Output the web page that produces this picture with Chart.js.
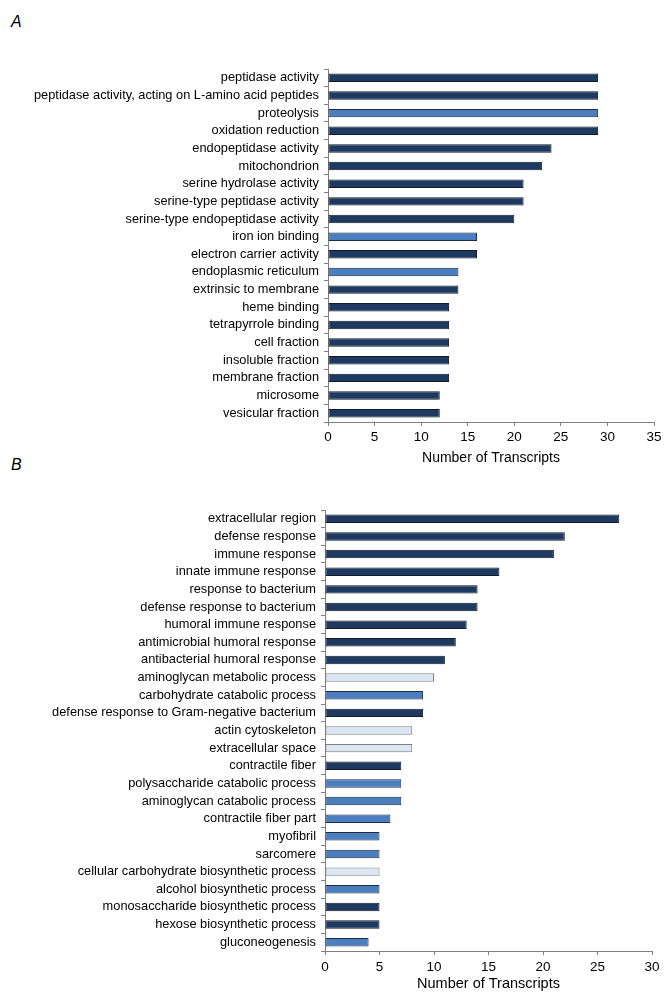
<!DOCTYPE html>
<html>
<head>
<meta charset="utf-8">
<script src="https://cdn.jsdelivr.net/npm/chart.js@4.4.1/dist/chart.umd.min.js"></script>
<style>
  body { margin: 0; background: #fff; width: 671px; height: 999px; position: relative; overflow: hidden; }
  canvas { position: absolute; left: 0; }
  .panel { position: absolute; left: 11px; font: italic 16px "Liberation Sans", Arial, sans-serif; color: #000; }
</style>
</head>
<body>
<div class="panel" style="top:13px">A</div>
<div class="panel" style="top:456px">B</div>
<canvas id="chartA" width="671" height="475" style="top:0"></canvas>
<canvas id="chartB" width="671" height="529" style="top:470px"></canvas>
<script>
// panel A data
const labelsA = [
  "peptidase activity", "peptidase activity, acting on L-amino acid peptides", "proteolysis",
  "oxidation reduction", "endopeptidase activity", "mitochondrion", "serine hydrolase activity",
  "serine-type peptidase activity", "serine-type endopeptidase activity", "iron ion binding",
  "electron carrier activity", "endoplasmic reticulum", "extrinsic to membrane", "heme binding",
  "tetrapyrrole binding", "cell fraction", "insoluble fraction", "membrane fraction",
  "microsome", "vesicular fraction"
];
const valuesA = [29, 29, 29, 29, 24, 23, 21, 21, 20, 16, 16, 14, 14, 13, 13, 13, 13, 13, 12, 12];
const groupA = ["d","d","m","d","d","d","d","d","d","m","d","m","d","d","d","d","d","d","d","d"];
const ticksA = [0, 5, 10, 15, 20, 25, 30, 35];

// panel B data
const labelsB = [
  "extracellular region", "defense response", "immune response", "innate immune response",
  "response to bacterium", "defense response to bacterium", "humoral immune response",
  "antimicrobial humoral response", "antibacterial humoral response", "aminoglycan metabolic process",
  "carbohydrate catabolic process", "defense response to Gram-negative bacterium", "actin cytoskeleton",
  "extracellular space", "contractile fiber", "polysaccharide catabolic process",
  "aminoglycan catabolic process", "contractile fiber part", "myofibril", "sarcomere",
  "cellular carbohydrate biosynthetic process", "alcohol biosynthetic process",
  "monosaccharide biosynthetic process", "hexose biosynthetic process", "gluconeogenesis"
];
const valuesB = [27, 22, 21, 16, 14, 14, 13, 12, 11, 10, 9, 9, 8, 8, 7, 7, 7, 6, 5, 5, 5, 5, 5, 5, 4];
const groupB = ["d","d","d","d","d","d","d","d","d","l","m","d","l","l","d","m","m","m","m","m","l","m","d","d","m"];
const ticksB = [0, 5, 10, 15, 20, 25, 30];

const fill = { d: "#1f3a60", m: "#4a7ebf", l: "#dce6f2" };
const edge = { d: "#111a26", m: "#1e2d40", l: "#7f7f7f" };
const FONT = "'Liberation Sans', Arial, sans-serif";

function makeChart(id, labels, values, groups, ticks, cfg) {
  return new Chart(document.getElementById(id), {
    type: "bar",
    data: {
      labels: labels,
      datasets: [{
        data: values,
        backgroundColor: groups.map(g => fill[g]),
        borderColor: groups.map(g => edge[g]),
        borderWidth: 1,
        borderSkipped: false,
        barPercentage: 0.48,
        categoryPercentage: 1
      }]
    },
    options: {
      indexAxis: "y",
      responsive: false,
      animation: false,
      layout: { padding: { top: cfg.top, right: cfg.right, left: 0, bottom: 0 } },
      plugins: { legend: { display: false }, tooltip: { enabled: false } },
      scales: {
        y: {
          afterFit: s => { s.width = cfg.axisX; },
          grid: { drawOnChartArea: false, tickLength: 4, color: "#7f7f7f", offset: true },
          border: { color: "#7f7f7f" },
          ticks: { autoSkip: false, padding: 5, color: "#000", font: { family: FONT, size: 12.8 } }
        },
        x: {
          min: ticks[0],
          max: ticks[ticks.length - 1],
          afterFit: s => { s.height = cfg.xh; },
          afterBuildTicks: s => { s.ticks = ticks.map(v => ({ value: v })); },
          grid: { drawOnChartArea: false, tickLength: 4, color: "#7f7f7f" },
          border: { color: "#7f7f7f" },
          ticks: { padding: cfg.tickPad, color: "#000", font: { family: FONT, size: 13.5 } },
          title: {
            display: true,
            text: "Number of Transcripts",
            color: "#000",
            font: { family: FONT, size: cfg.titleSize },
            padding: { top: 0, bottom: cfg.titlePad }
          }
        }
      }
    }
  });
}

makeChart("chartA", labelsA, valuesA, groupA, ticksA,
  { top: 69, right: 17, axisX: 328, xh: 53, tickPad: 3, titleSize: 14, titlePad: 8 });
makeChart("chartB", labelsB, valuesB, groupB, ticksB,
  { top: 40, right: 19, axisX: 325, xh: 48, tickPad: 4, titleSize: 14.5, titlePad: 6 });
</script>
</body>
</html>
